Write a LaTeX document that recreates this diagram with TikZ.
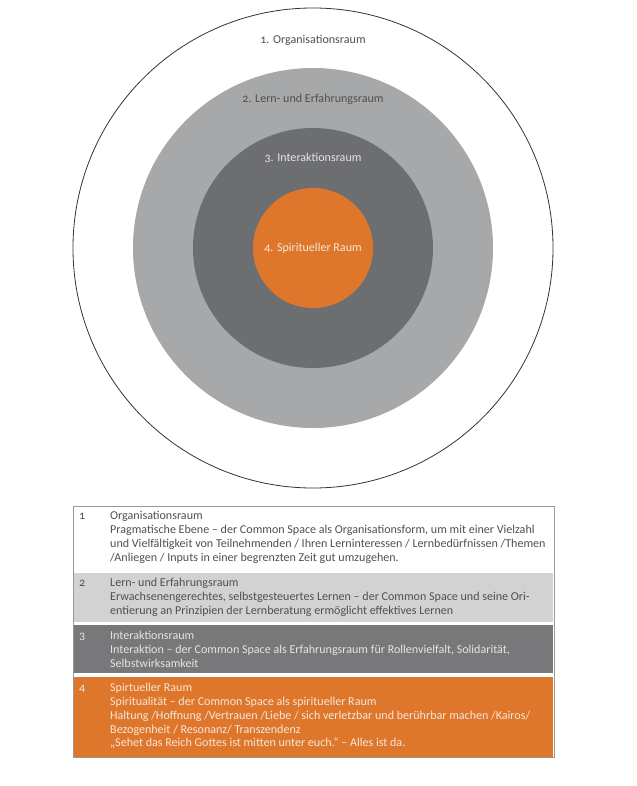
\documentclass[tikz,border=0pt]{standalone}
\usepackage{fontspec}
\setmainfont{Carlito}[Numbers=OldStyle]
\usetikzlibrary{positioning}
\definecolor{ringlight}{HTML}{A7A8AA}
\definecolor{ringdark}{HTML}{6D6E71}
\definecolor{kern}{HTML}{DE772C}
\definecolor{rowlight}{HTML}{D2D2D3}
\definecolor{rowdark}{HTML}{78787A}
\definecolor{txtdark}{HTML}{505050}
\definecolor{txtlight}{HTML}{E4E4E4}
\definecolor{txtwarm}{HTML}{F7E6D8}

\begin{document}
\begin{tikzpicture}[x=1bp, y=-1bp, font=\fontsize{12.1}{14}\selectfont,
        ring/.style={circle, inner sep=0pt},
        ringtext/.style={inner sep=0pt},
        tabrow/.style={rectangle, inner sep=0pt, minimum width=479bp, anchor=north west},
        num/.style={anchor=base west, inner sep=0pt},
        body/.style={anchor=north west, inner sep=0pt, align=left}]
        \useasboundingbox (0,0) rectangle (637,786);
        % rings
        \node[ring, draw=black!80, line width=0.8bp, minimum size=480bp] (1) at (313,248) {};
        \node[ring, fill=ringlight, minimum size=360bp] (2) at (1.center) {};
        \node[ring, fill=ringdark, minimum size=240bp] (3) at (1.center) {};
        \node[ring, fill=kern, minimum size=120bp] (4) at (1.center) {};
        \node[ringtext, text=txtdark] (t1) at (313,40) {1. Organisationsraum};
        \node[ringtext, text=txtdark] (t2) at (313,99) {2. Lern- und Erfahrungsraum};
        \node[ringtext, text=txtlight] (t3) at (313,158) {3. Interaktionsraum};
        \node[ringtext, text=txtwarm] (t4) at (1.center) {4. Spiritueller Raum};
        % table
        \node[draw=black!40, line width=0.6bp, minimum width=481bp, minimum height=251bp,
            anchor=north west, inner sep=0pt] (tab) at (72.5,506) {};
        \node[tabrow, minimum height=49bp, fill=rowlight] (r2) at (73.5,572.5) {};
        \node[tabrow, minimum height=48bp, fill=rowdark] (r3) at (73.5,624.5) {};
        \node[tabrow, minimum height=80bp, fill=kern] (r4) at (73.5,676.5) {};
        \node[num, text=txtdark] (n1) at (79,519) {1};
        \node[num, text=txtdark] (n2) at (79,586) {2};
        \node[num, text=txtlight] (n3) at (79,639) {3};
        \node[num, text=txtwarm] (n4) at (79,691) {4};
        \node[body, text=txtdark] (b1) at (110,509.2) {\strut Organisationsraum\\
            Pragmatische Ebene -- der Common Space als Organisationsform, um mit einer Vielzahl\\
            und Vielfältigkeit von Teilnehmenden / Ihren Lerninteressen / Lernbedürfnissen /Themen\\
            /Anliegen / Inputs in einer begrenzten Zeit gut umzugehen.};
        \node[body, text=txtdark] (b2) at (110,576.2) {\strut Lern- und Erfahrungsraum\\
            Erwachsenengerechtes, selbstgesteuertes Lernen -- der Common Space und seine Ori-\\
            entierung an Prinzipien der Lernberatung ermöglicht effektives Lernen};
        \node[body, text=txtlight] (b3) at (110,629.2) {\strut Interaktionsraum\\
            Interaktion -- der Common Space als Erfahrungsraum für Rollenvielfalt, Solidarität,\\
            Selbstwirksamkeit};
        \node[body, text=txtwarm] (b4) at (110,681.2) {\strut Spirtueller Raum\\
            Spiritualität -- der Common Space als spiritueller Raum\\
            Haltung /Hoffnung /Vertrauen /Liebe / sich verletzbar und berührbar machen /Kairos/\\
            Bezogenheit / Resonanz/ Transzendenz\\
            „Sehet das Reich Gottes ist mitten unter euch.“ -- Alles ist da.};
    \end{tikzpicture}
\end{document}
